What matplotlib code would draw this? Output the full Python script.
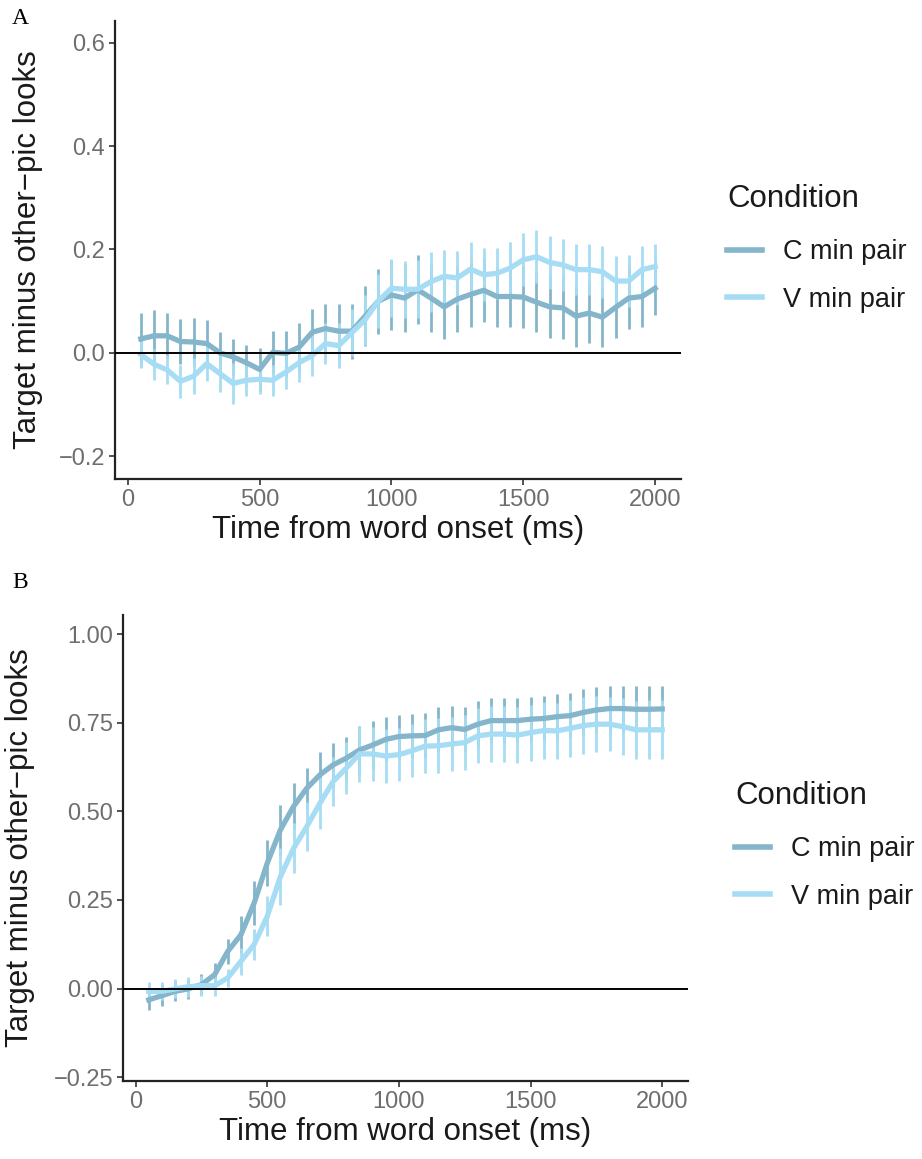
import matplotlib
matplotlib.use("Agg")
import matplotlib.pyplot as plt
from matplotlib.lines import Line2D

plt.rcParams['font.family'] = ['Liberation Sans', 'DejaVu Sans']

time_ms = list(range(50, 2001, 50))

# panel A
c_a = [0.027, 0.033, 0.033, 0.022, 0.021, 0.018, 0.000, -0.008, -0.019, -0.032,
       0.001, -0.001, 0.011, 0.040, 0.047, 0.042, 0.042, 0.071, 0.100, 0.112,
       0.106, 0.122, 0.106, 0.089, 0.104, 0.113, 0.121, 0.109, 0.109, 0.108,
       0.098, 0.089, 0.087, 0.071, 0.077, 0.069, 0.088, 0.106, 0.109, 0.125]
c_a_se = [0.051, 0.050, 0.044, 0.044, 0.047, 0.046, 0.040, 0.035, 0.035, 0.042,
          0.042, 0.044, 0.046, 0.044, 0.047, 0.053, 0.053, 0.058, 0.063, 0.067,
          0.065, 0.067, 0.065, 0.062, 0.064, 0.062, 0.062, 0.058, 0.059, 0.060,
          0.058, 0.060, 0.061, 0.059, 0.058, 0.058, 0.059, 0.060, 0.058, 0.051]
v_a = [-0.003, -0.022, -0.033, -0.055, -0.045, -0.021, -0.040, -0.059, -0.053, -0.051,
       -0.053, -0.037, -0.019, -0.005, 0.018, 0.014, 0.039, 0.064, 0.100, 0.125,
       0.123, 0.123, 0.138, 0.148, 0.145, 0.162, 0.151, 0.154, 0.164, 0.180,
       0.186, 0.175, 0.170, 0.161, 0.161, 0.157, 0.139, 0.139, 0.161, 0.167]
v_a_se = [0.026, 0.030, 0.028, 0.032, 0.035, 0.034, 0.035, 0.039, 0.030, 0.029,
          0.030, 0.032, 0.037, 0.039, 0.039, 0.043, 0.045, 0.048, 0.052, 0.056,
          0.055, 0.056, 0.058, 0.051, 0.053, 0.052, 0.051, 0.049, 0.051, 0.051,
          0.051, 0.052, 0.050, 0.050, 0.049, 0.050, 0.048, 0.050, 0.045, 0.044]

# panel B
c_b = [-0.032, -0.020, -0.008, -0.001, 0.011, 0.039, 0.105, 0.152, 0.241, 0.354,
       0.448, 0.514, 0.565, 0.603, 0.631, 0.650, 0.673, 0.687, 0.703, 0.711,
       0.713, 0.714, 0.730, 0.736, 0.731, 0.746, 0.756, 0.756, 0.756, 0.760,
       0.762, 0.767, 0.770, 0.779, 0.786, 0.790, 0.790, 0.788, 0.788, 0.789]
c_b_se = [0.030, 0.030, 0.028, 0.028, 0.030, 0.033, 0.035, 0.052, 0.063, 0.066,
          0.070, 0.065, 0.058, 0.063, 0.061, 0.061, 0.068, 0.068, 0.064, 0.062,
          0.062, 0.063, 0.063, 0.062, 0.063, 0.064, 0.063, 0.064, 0.063, 0.064,
          0.064, 0.063, 0.064, 0.065, 0.064, 0.065, 0.065, 0.065, 0.065, 0.065]
v_b = [-0.008, -0.008, -0.001, 0.005, 0.008, 0.008, 0.030, 0.077, 0.124, 0.204,
       0.316, 0.396, 0.457, 0.523, 0.584, 0.622, 0.662, 0.662, 0.656, 0.660,
       0.671, 0.684, 0.685, 0.690, 0.694, 0.713, 0.718, 0.718, 0.715, 0.722,
       0.728, 0.727, 0.734, 0.742, 0.746, 0.746, 0.739, 0.730, 0.730, 0.730]
v_b_se = [0.025, 0.025, 0.027, 0.028, 0.028, 0.028, 0.025, 0.038, 0.044, 0.057,
          0.080, 0.070, 0.070, 0.073, 0.070, 0.074, 0.080, 0.076, 0.077, 0.075,
          0.075, 0.076, 0.077, 0.076, 0.077, 0.078, 0.078, 0.079, 0.078, 0.079,
          0.080, 0.080, 0.080, 0.081, 0.080, 0.077, 0.080, 0.082, 0.083, 0.083]

conditions = ["C min pair", "V min pair"]
col_c = "#84b5ca"
col_v = "#a6ddf4"
tick_col = "#6e6e6e"

W, H = 922, 1159
fig = plt.figure(figsize=(W / 100, H / 100), dpi=100)


def fr(x0, y0, x1, y1):
    return [x0 / W, 1 - y1 / H, (x1 - x0) / W, (y1 - y0) / H]


def panel(ax, c, c_se, v, v_se, ylim, yticks, ylabels, ylab_x):
    ax.vlines(time_ms, [a - b for a, b in zip(c, c_se)], [a + b for a, b in zip(c, c_se)],
              color=col_c, lw=2.0, zorder=2)
    ax.vlines(time_ms, [a - b for a, b in zip(v, v_se)], [a + b for a, b in zip(v, v_se)],
              color=col_v, lw=2.0, zorder=2)
    ax.plot(time_ms, c, color=col_c, lw=3.8, zorder=3, solid_joinstyle='round')
    ax.plot(time_ms, v, color=col_v, lw=3.8, zorder=3, solid_joinstyle='round')
    ax.axhline(0, color='black', lw=1.4, zorder=4)
    ax.set_xlim(-48, 2098)
    ax.set_ylim(*ylim)
    ax.set_xticks([0, 500, 1000, 1500, 2000])
    ax.set_yticks(yticks)
    ax.set_yticklabels(ylabels)
    for s in ['top', 'right']:
        ax.spines[s].set_visible(False)
    for s in ['left', 'bottom']:
        ax.spines[s].set_linewidth(1.6)
        ax.spines[s].set_color('#222222')
    ax.tick_params(labelsize=17, labelcolor=tick_col, color='#333333',
                   length=4, width=1.2, pad=3)
    ax.set_xlabel("Time from word onset (ms)", fontsize=22.5, color='#1a1a1a', labelpad=3)
    ax.set_ylabel("Target minus other\u2212pic looks", fontsize=22.5, color='#1a1a1a')
    ax.yaxis.set_label_coords(ylab_x, 0.5)


def legend(ax, x, y):
    handles = [Line2D([], [], color=col_c, lw=4), Line2D([], [], color=col_v, lw=4)]
    lg = ax.legend(handles, conditions, title="Condition", loc='upper left',
                   bbox_to_anchor=(x / W, 1 - y / H), bbox_transform=fig.transFigure,
                   frameon=False, fontsize=19.5, title_fontsize=22.5, handlelength=1.3,
                   handletextpad=0.75, labelspacing=0.8, borderpad=0, borderaxespad=0,
                   alignment='left')
    lg._legend_box.sep = 18
    lg.get_title().set_color('#1a1a1a')
    for t in lg.get_texts():
        t.set_color('#1a1a1a')


ax_a = fig.add_axes(fr(115, 21, 681, 479))
panel(ax_a, c_a, c_a_se, v_a, v_a_se, (-0.244, 0.642),
      [-0.2, 0.0, 0.2, 0.4, 0.6], ["\u22120.2", "0.0", "0.2", "0.4", "0.6"], -0.127)
legend(ax_a, 727, 184)

ax_b = fig.add_axes(fr(123, 615, 688, 1081))
panel(ax_b, c_b, c_b_se, v_b, v_b_se, (-0.261, 1.054),
      [-0.25, 0.0, 0.25, 0.5, 0.75, 1.0], ["\u22120.25", "0.00", "0.25", "0.50", "0.75", "1.00"],
      -0.155)
legend(ax_b, 735, 781)

fig.text(12 / W, 1 - 18 / H, "A", family=['Liberation Serif', 'DejaVu Serif'], fontsize=17,
         va='center', ha='left')
fig.text(12 / W, 1 - 582 / H, "B", family=['Liberation Serif', 'DejaVu Serif'], fontsize=17,
         va='center', ha='left')

fig.savefig("out.png", dpi=100)
